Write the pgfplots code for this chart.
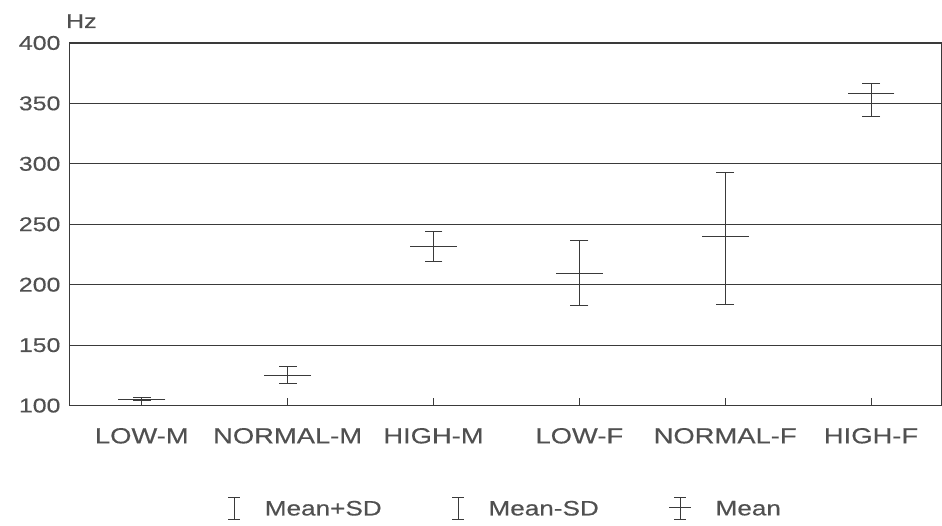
\documentclass[border=0pt]{standalone}
\usepackage{fontspec}
\setmainfont[FakeStretch=1.25, FakeBold=0.4]{Liberation Sans}
\usepackage{pgfplots}
\usepackage{pgfplotstable}
\pgfplotsset{compat=1.18}
\definecolor{ink}{HTML}{3A3A3A}
\definecolor{txt}{HTML}{505050}

\pgfplotstableread{
x  m      hi     lo     ep    em
0  105    106.5  104    1.5   1
1  125    132.5  118.5  7.5   6.5
2  231.5  244    219    12.5  12.5
3  209.5  236.5  182.5  27    27
4  239.5  293    184    53.5  55.5
5  358    366.5  339.5  8.5   18.5
}\datatab

\begin{document}
\begin{tikzpicture}[x=1bp,y=1bp]
\begin{axis}[
  name=ax,
  scale only axis,
  width=872bp, height=363bp,
  xmin=-0.493, xmax=5.48,
  ymin=100, ymax=400,
  ytick={100,150,...,400},
  xtick={0,...,5},
  xticklabels={LOW-M,NORMAL-M,HIGH-M,LOW-F,NORMAL-F,HIGH-F},
  xtick pos=bottom, ytick pos=left,
  tick align=inside,
  major tick length=8bp,
  tick style={ink, line width=1pt},
  ymajorgrids,
  grid style={ink, line width=0.9pt},
  axis line style={ink, line width=1pt},
  /pgf/number format/assume math mode=true,
  yticklabel style={font=\fontsize{20}{20}\selectfont, text=txt, xshift=-6bp},
  xticklabel style={font=\fontsize{22}{22}\selectfont, text=txt, yshift=-19bp},
  legend columns=3,
  legend style={at={(0.5,-0.285)}, anchor=center, draw=none, fill=none,
    font=\fontsize{21}{21}\selectfont, text=txt,
    /tikz/every even column/.append style={column sep=68bp},
    /tikz/every odd column/.append style={column sep=22bp}},
  legend cell align=left,
  clip=false,
]
% vertical SD lines
\addplot[ink, line width=1pt, draw=none, mark=none, forget plot,
  error bars/.cd, y dir=both, y explicit, error mark=none,
  error bar style={ink, line width=1pt}]
  table[x=x, y=m, y error plus=ep, y error minus=em] {\datatab};
% Mean+SD caps
\addplot[only marks, mark=-, mark size=9bp, mark options={ink, line width=1pt},
  legend image code/.code={\draw[ink,line width=0.9pt] (0bp,-11bp)--(0bp,11bp) (-6bp,-11bp)--(6bp,-11bp) (-6bp,11bp)--(6bp,11bp);}]
  table[x=x, y=hi] {\datatab};
\addlegendentry{Mean+SD}
% Mean-SD caps
\addplot[only marks, mark=-, mark size=9bp, mark options={ink, line width=1pt},
  legend image code/.code={\draw[ink,line width=0.9pt] (0bp,-11bp)--(0bp,11bp) (-6bp,-11bp)--(6bp,-11bp) (-6bp,11bp)--(6bp,11bp);}]
  table[x=x, y=lo] {\datatab};
\addlegendentry{Mean-SD}
% Mean
\addplot[only marks, mark=-, mark size=23.5bp, mark options={ink, line width=1pt},
  legend image code/.code={\draw[ink,line width=0.9pt] (0bp,-11bp)--(0bp,11bp) (-6bp,-11bp)--(6bp,-11bp) (-6bp,11bp)--(6bp,11bp) (-11bp,1bp)--(11bp,1bp);}]
  table[x=x, y=m] {\datatab};
\addlegendentry{Mean}
\coordinate (bl) at (rel axis cs:0,0);
\coordinate (tr) at (rel axis cs:1,1);
\coordinate (tl) at (rel axis cs:0,1);
\end{axis}
\node[anchor=base west, font=\fontsize{20}{20}\selectfont, text=txt, inner sep=0pt] at ([xshift=-4bp, yshift=15bp]tl) {Hz};
\pgfresetboundingbox
\path ([xshift=-70bp, yshift=-120bp]bl) rectangle ([xshift=1bp, yshift=43bp]tr);
\end{tikzpicture}
\end{document}
